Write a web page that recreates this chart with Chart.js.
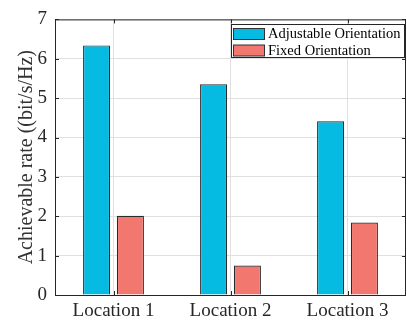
<!DOCTYPE html>
<html>
<head>
<meta charset="utf-8">
<script src="https://cdn.jsdelivr.net/npm/chart.js@4/dist/chart.umd.min.js"></script>
<style>
  html, body { margin: 0; padding: 0; background: #fff; }
  #wrap { width: 407px; height: 323px; position: relative; }
</style>
</head>
<body>
<div id="wrap"><canvas id="c" width="407" height="323"></canvas></div>
<script>
// Achievable rate per location for the two antenna orientation schemes
const categories = ['Location 1', 'Location 2', 'Location 3'];
const adjustableRate = [6.34, 5.35, 4.41];
const fixedRate = [2.01, 0.75, 1.84];
const yTicks = [0, 1, 2, 3, 4, 5, 6, 7];

const SERIF = '"Liberation Serif", "Times New Roman", serif';
const AXIS = '#262626';

// Draws the boxed frame, inward tick marks and the in-plot legend
const framePlugin = {
  id: 'frame',
  afterDraw(chart) {
    const { ctx, chartArea: a, scales } = chart;
    ctx.save();
    ctx.strokeStyle = AXIS;
    ctx.lineWidth = 1;
    ctx.strokeRect(a.left + 0.5, a.top + 0.5, a.right - a.left - 1, a.bottom - a.top);
    const tl = 4;
    ctx.beginPath();
    yTicks.forEach(v => {
      const y = Math.round(scales.y.getPixelForValue(v)) + 0.5;
      ctx.moveTo(a.left, y); ctx.lineTo(a.left + tl, y);
      ctx.moveTo(a.right, y); ctx.lineTo(a.right - tl, y);
    });
    categories.forEach((_, i) => {
      const x = Math.round(scales.x.getPixelForValue(i)) + 0.5;
      ctx.moveTo(x, a.bottom); ctx.lineTo(x, a.bottom - tl);
      ctx.moveTo(x, a.top); ctx.lineTo(x, a.top + tl);
    });
    ctx.stroke();

    // legend
    const lx = 231, ly = 24, lw = 173, lh = 33;
    ctx.fillStyle = '#fff';
    ctx.fillRect(lx, ly, lw, lh);
    ctx.strokeStyle = AXIS;
    ctx.strokeRect(lx + 0.5, ly + 0.5, lw, lh);
    ctx.font = '14.5px ' + SERIF;
    ctx.textBaseline = 'middle';
    chart.data.datasets.forEach((ds, i) => {
      const cy = ly + 10 + i * 16.5;
      ctx.fillStyle = ds.backgroundColor;
      ctx.fillRect(lx + 2.5, cy - 5.5, 31, 11);
      ctx.strokeStyle = '#333';
      ctx.strokeRect(lx + 2.5, cy - 5.5, 31, 11);
      ctx.fillStyle = '#000';
      ctx.fillText(ds.label, lx + 37, cy + 0.5);
    });
    ctx.restore();
  }
};

new Chart(document.getElementById('c'), {
  type: 'bar',
  data: {
    labels: categories,
    datasets: [
      { label: 'Adjustable Orientation', data: adjustableRate,
        backgroundColor: '#05BBE1', borderColor: '#2a2a2a', borderWidth: 1.2 },
      { label: 'Fixed Orientation', data: fixedRate,
        backgroundColor: '#F1776F', borderColor: '#2a2a2a', borderWidth: 1.2 }
    ]
  },
  options: {
    responsive: false,
    animation: false,
    devicePixelRatio: 1,
    categoryPercentage: 0.578,
    barPercentage: 0.8,
    layout: { padding: { top: 13, right: 1, left: 0, bottom: 0 } },
    plugins: { legend: { display: false }, tooltip: { enabled: false } },
    scales: {
      x: {
        afterFit(s) { s.height = 28; },
        grid: { offset: false, color: '#e0e0e0', drawTicks: false },
        border: { display: false },
        ticks: { color: AXIS, padding: 5, font: { family: SERIF, size: 19 } }
      },
      y: {
        min: 0, max: 7,
        afterFit(s) { s.width = 55; },
        afterBuildTicks(s) { s.ticks = yTicks.map(v => ({ value: v })); },
        grid: { color: '#e0e0e0', drawTicks: false },
        border: { display: false },
        ticks: { color: AXIS, padding: 8, font: { family: SERIF, size: 19 } },
        title: { display: true, text: 'Achievable rate ((bit/s/Hz)', color: '#333',
                 padding: { top: 15, bottom: 0 }, font: { family: SERIF, size: 20 } }
      }
    }
  },
  plugins: [framePlugin]
});
</script>
</body>
</html>
